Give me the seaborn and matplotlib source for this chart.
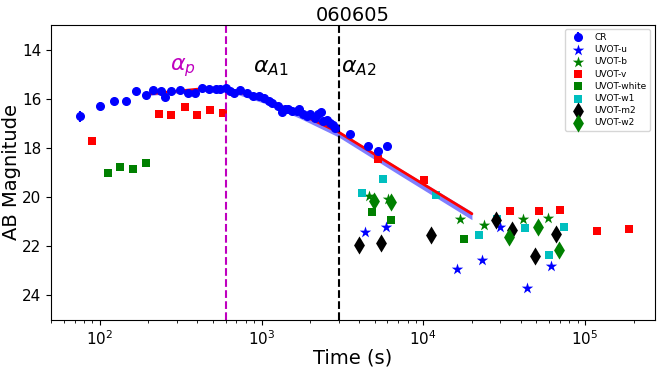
import numpy as np
import matplotlib
matplotlib.use("Agg")
import matplotlib.pyplot as plt
import seaborn as sns

# CR band (white-light like) points with errors
cr_t = [75, 100, 122, 145, 168, 192, 214, 238, 253, 274, 314, 352, 388, 430, 474, 521,
        550, 602, 641, 673, 733, 813, 885, 958, 1029, 1105, 1158, 1273, 1336, 1400,
        1467, 1538, 1652, 1715, 1815, 1905, 1996, 2143, 2246, 2322, 2410, 2528, 2649,
        2777, 2843, 3520, 4527, 5265, 5975]
cr_mag = [16.72, 16.31, 16.10, 16.08, 15.69, 15.84, 15.66, 15.67, 15.93, 15.67, 15.65,
          15.77, 15.76, 15.55, 15.59, 15.62, 15.62, 15.58, 15.68, 15.75, 15.64, 15.75,
          15.88, 15.88, 15.99, 16.09, 16.16, 16.30, 16.54, 16.41, 16.43, 16.50, 16.50,
          16.43, 16.64, 16.71, 16.64, 16.78, 16.64, 16.54, 16.91, 16.85, 16.98, 17.05,
          17.19, 17.42, 17.92, 18.11, 17.92]
cr_err = [0.22, 0.16, 0.08, 0.1] + [0.05] * 45

# UVOT filters
u_t = [4360, 5890, 16100, 23000, 29900, 43800, 61400]
u_mag = [21.40, 21.22, 22.91, 22.57, 21.20, 23.69, 22.80]

b_t = [4625, 6030, 16900, 23800, 41500, 58900]
b_mag = [19.96, 20.08, 20.90, 21.14, 20.88, 20.84]

v_t = [90, 231, 275, 334, 400, 482, 574, 5250, 10110, 34600, 52100, 69700, 118000, 186000]
v_mag = [17.71, 16.64, 16.68, 16.35, 16.65, 16.44, 16.59, 18.44, 19.31, 20.56, 20.56,
         20.52, 21.37, 21.31]

white_t = [113, 134, 160, 192, 4820, 6280, 17800]
white_mag = [19.03, 18.76, 18.86, 18.63, 20.61, 20.94, 21.70]

w1_t = [4200, 5640, 12050, 22000, 28500, 42700, 60300, 74500]
w1_mag = [19.85, 19.27, 19.92, 21.55, 20.89, 21.27, 22.37, 21.20]

m2_t = [3980, 5450, 11100, 28100, 35500, 49100, 66400]
m2_mag = [21.96, 21.86, 21.56, 20.94, 21.35, 22.41, 21.52]

w2_t = [4950, 6300, 33800, 51200, 68900]
w2_mag = [20.17, 20.21, 21.62, 21.21, 22.16]

# best fit and spread of posterior curves
fit_t = [190, 420, 600, 1080, 1730, 3000, 7200, 20000]
fit_mag = [15.82, 15.60, 15.56, 16.07, 16.62, 17.36, 18.90, 20.68]
fit_hi = [15.78, 15.56, 15.52, 16.02, 16.57, 17.31, 18.84, 20.60]
fit_lo = [15.88, 15.68, 15.67, 16.22, 16.80, 17.56, 19.12, 20.92]

t_peak = 600
t_break = 3000

sns.set_style("ticks", rc={"text.color": "black", "axes.labelcolor": "black",
                           "xtick.color": "black", "ytick.color": "black",
                           "axes.edgecolor": "black"})
fig, ax = plt.subplots(figsize=(6.64, 3.67), dpi=100)
fig.subplots_adjust(left=0.077, right=0.986, top=0.932, bottom=0.128)

ax.fill_between(fit_t, fit_hi, fit_lo, color="#2a2aff", alpha=0.6, lw=0)
ax.plot(fit_t, fit_mag, color="red", lw=2)

ax.errorbar(cr_t, cr_mag, yerr=cr_err, fmt="o", color="blue", ms=5.5, label="CR")

filters = [
    ("UVOT-u", u_t, u_mag, "*", "blue", 75),
    ("UVOT-b", b_t, b_mag, "*", "green", 75),
    ("UVOT-v", v_t, v_mag, "s", "red", 30),
    ("UVOT-white", white_t, white_mag, "s", "green", 30),
    ("UVOT-w1", w1_t, w1_mag, "s", "c", 30),
    ("UVOT-m2", m2_t, m2_mag, "d", "black", 85),
    ("UVOT-w2", w2_t, w2_mag, "d", "green", 85),
]
for name, t, mag, mk, col, sz in filters:
    sns.scatterplot(x=t, y=mag, marker=mk, color=col, s=sz, linewidth=0,
                    label=name, ax=ax)

ax.axvline(t_peak, color="m", ls="--", lw=1.5)
ax.axvline(t_break, color="black", ls="--", lw=1.5)
ax.text(270, 14.75, r"$\alpha_p$", color="m", fontsize=16, va="center")
ax.text(890, 14.75, r"$\alpha_{A1}$", color="black", fontsize=16, va="center")
ax.text(3120, 14.75, r"$\alpha_{A2}$", color="black", fontsize=16, va="center")

ax.set_xscale("log")
ax.set_xlim(50, 2.7e5)
ax.set_ylim(25, 13)
ax.set_yticks([14, 16, 18, 20, 22, 24])
ax.tick_params(labelsize=11)
ax.set_xlabel("Time (s)", fontsize=14, labelpad=0)
ax.set_ylabel("AB Magnitude", fontsize=14, labelpad=1)
ax.set_title("060605", fontsize=14, pad=2)

handles, labels = ax.get_legend_handles_labels()
order = [labels.index("CR")] + [i for i, l in enumerate(labels) if l != "CR"]
ax.legend([handles[i] for i in order], [labels[i] for i in order],
          loc="upper right", fontsize=6.5, markerscale=1.0, labelspacing=0.35)

fig.savefig("out.png", dpi=100)
